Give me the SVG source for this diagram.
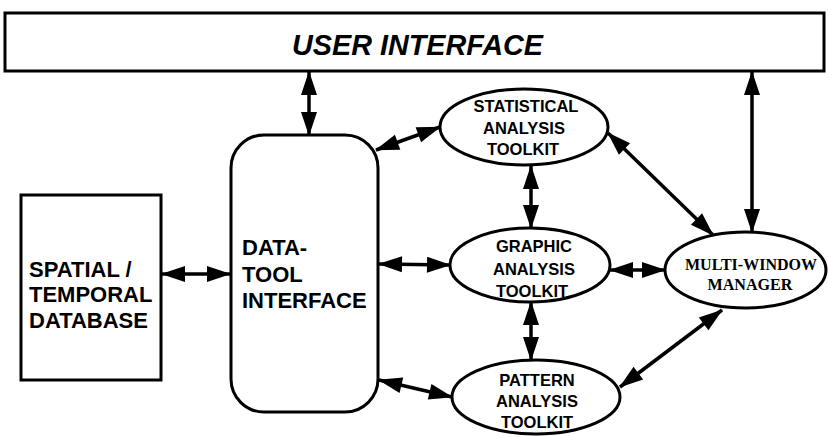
<svg xmlns="http://www.w3.org/2000/svg" width="828" height="437" viewBox="0 0 828 437">
<style>
.box{fill:#fff;stroke:#000;stroke-width:3}
.ell{fill:#fff;stroke:#000;stroke-width:3}
.lbl{font-family:"Liberation Sans",Arial,sans-serif;font-weight:bold;fill:#000}
.big{font-size:22px}
.small{font-size:16.5px;text-anchor:middle}
.serif{font-family:"Liberation Serif","Times New Roman",serif;font-weight:bold;font-size:17px;text-anchor:middle;fill:#000}
.ui{font-family:"Liberation Sans",Arial,sans-serif;font-weight:bold;font-style:italic;font-size:29px;fill:#000}
.conn line{stroke:#000;stroke-width:3.5;marker-start:url(#ah);marker-end:url(#ah)}
</style>
<defs>
<marker id="ah" markerUnits="userSpaceOnUse" markerWidth="24" markerHeight="16" refX="23" refY="8" orient="auto-start-reverse" overflow="visible">
<path d="M0,0 L24,8 L0,16 z" fill="#000"/>
</marker>
</defs>
<rect width="828" height="437" fill="#fff"/>
<g id="user-interface">
<rect class="box" x="5" y="13" width="819" height="58"/>
<text class="ui" x="292" y="55" textLength="251" lengthAdjust="spacingAndGlyphs">USER INTERFACE</text>
</g>
<g id="spatial-temporal-database">
<rect class="box" x="21" y="195" width="140" height="185"/>
<text class="lbl big" x="29" y="277">SPATIAL /</text>
<text class="lbl big" x="29" y="302">TEMPORAL</text>
<text class="lbl big" x="29" y="328">DATABASE</text>
</g>
<g id="data-tool-interface">
<rect class="box" x="231" y="135" width="147" height="277" rx="33" ry="33"/>
<text class="lbl big" x="242" y="255">DATA-</text>
<text class="lbl big" x="242" y="282">TOOL</text>
<text class="lbl big" x="242" y="308">INTERFACE</text>
</g>
<g id="statistical-analysis-toolkit">
<ellipse class="ell" cx="524" cy="127" rx="84" ry="38"/>
<text class="lbl small" x="526" y="112">STATISTICAL</text>
<text class="lbl small" x="524" y="134">ANALYSIS</text>
<text class="lbl small" x="523" y="155">TOOLKIT</text>
</g>
<g id="graphic-analysis-toolkit">
<ellipse class="ell" cx="530" cy="265" rx="80" ry="37"/>
<text class="lbl small" x="534" y="252">GRAPHIC</text>
<text class="lbl small" x="534" y="275">ANALYSIS</text>
<text class="lbl small" x="532" y="297">TOOLKIT</text>
</g>
<g id="pattern-analysis-toolkit">
<ellipse class="ell" cx="536" cy="397" rx="84" ry="37"/>
<text class="lbl small" x="537" y="386">PATTERN</text>
<text class="lbl small" x="537" y="407">ANALYSIS</text>
<text class="lbl small" x="537" y="428">TOOLKIT</text>
</g>
<g id="multi-window-manager">
<ellipse class="ell" cx="745.5" cy="270" rx="80.5" ry="38"/>
<text class="serif" x="751" y="270" textLength="132" lengthAdjust="spacingAndGlyphs">MULTI-WINDOW</text>
<text class="serif" x="750" y="290" textLength="85" lengthAdjust="spacingAndGlyphs">MANAGER</text>
</g>
<g id="connectors" class="conn">
<line x1="309" y1="72" x2="309" y2="135"/>
<line x1="752" y1="72" x2="752" y2="232"/>
<line x1="162" y1="274" x2="230" y2="274"/>
<line x1="376" y1="150" x2="440" y2="127"/>
<line x1="379" y1="264" x2="450" y2="265"/>
<line x1="379" y1="380" x2="452" y2="397"/>
<line x1="531" y1="166" x2="531" y2="228"/>
<line x1="531" y1="302" x2="531" y2="360"/>
<line x1="610" y1="270" x2="665" y2="270"/>
<line x1="608" y1="133" x2="713" y2="235"/>
<line x1="620" y1="387" x2="722" y2="310"/>
</g>
</svg>
